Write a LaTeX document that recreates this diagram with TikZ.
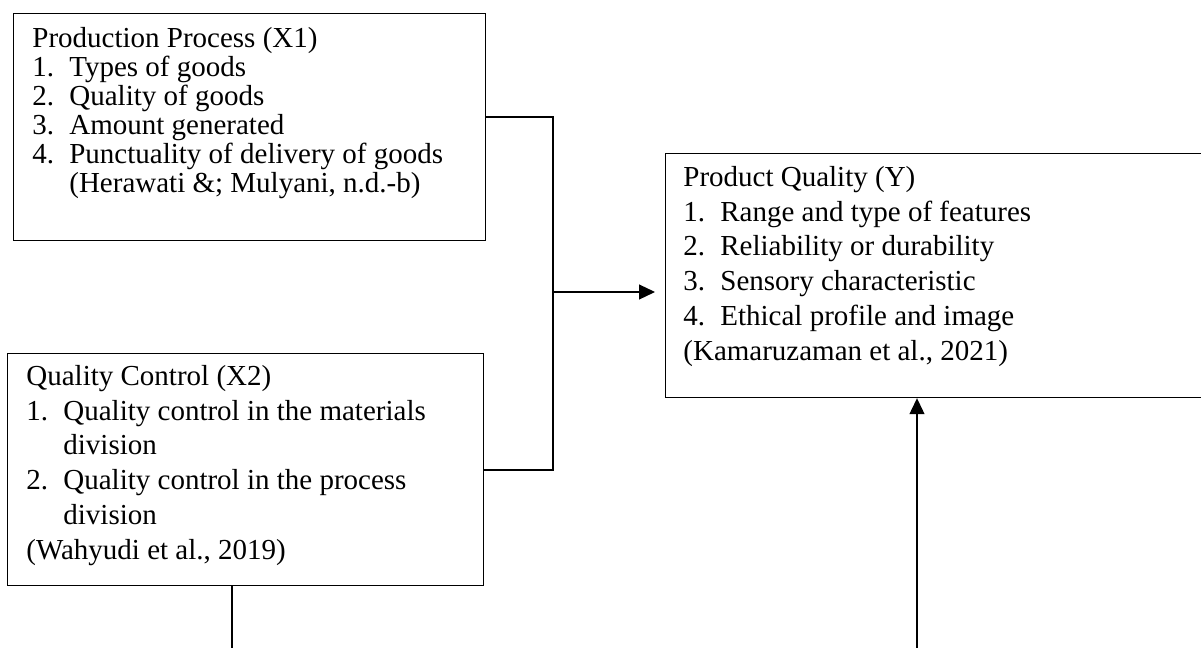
\documentclass[tikz,border=0pt]{standalone}
\usepackage{fontspec}
\setmainfont{Liberation Serif}
\usetikzlibrary{arrows.meta,positioning,calc}
\tikzset{
    box/.style={draw,line width=0.6pt,inner sep=0pt,anchor=north west},
    txt/.style={align=left,inner sep=0pt,anchor=north west,font=\fontsize{14.5}{14.5}\selectfont},
    widetxt/.style={txt,font=\fontsize{14.5}{17.35}\selectfont},
    link/.style={line width=0.6pt},
    arrow/.style={-{Triangle[length=8pt,width=7.5pt]},line width=0.6pt}
}
\newcommand{\itm}[2]{\makebox[18.5pt][l]{#1}#2}
\newcommand{\cont}[1]{\hspace*{18.5pt}#1}

\begin{document}
\begin{tikzpicture}[x=0.5pt,y=-0.5pt]
    \useasboundingbox (0,0) rectangle (1201,648);
    \clip (0,0) rectangle (1201,648);
    % boxes
    \node[box,minimum width=236pt,minimum height=113.5pt] (pp) at (13,13) {};
    \node[box,minimum width=238pt,minimum height=116pt] (qc) at (7,353) {};
    \node[box,minimum width=300pt,minimum height=122pt] (pq) at (665,153) {};
    % texts
    \node[txt] (pptxt) at (32,27) {Production Process (X1)\\
        \itm{1.}{Types of goods}\\
        \itm{2.}{Quality of goods}\\
        \itm{3.}{Amount generated}\\
        \itm{4.}{Punctuality of delivery of goods}\\
        \cont{(Herawati \&; Mulyani, n.d.-b)}};
    \node[widetxt] (qctxt) at (26,365) {Quality Control (X2)\\
        \itm{1.}{Quality control in the materials}\\
        \cont{division}\\
        \itm{2.}{Quality control in the process}\\
        \cont{division}\\
        (Wahyudi et al., 2019)};
    \node[widetxt] (pqtxt) at (683,166) {Product Quality (Y)\\
        \itm{1.}{Range and type of features}\\
        \itm{2.}{Reliability or durability}\\
        \itm{3.}{Sensory characteristic}\\
        \itm{4.}{Ethical profile and image}\\
        (Kamaruzaman et al., 2021)};
    % connectors
    \coordinate (jn) at (553,292);
    \coordinate (qcend) at (232,648);
    \coordinate (pqstart) at (917,648);
    \draw[link] ($(pp.north east)+(0,104)$) -| (jn) |- ($(qc.north east)+(0,117)$);
    \draw[arrow] (jn) -- ($(pq.west |- jn)+(-10,0)$);
    \draw[link] (qc.south -| qcend) -- (qcend);
    \draw[arrow] (pqstart) -- (pqstart |- pq.south);
\end{tikzpicture}
\end{document}
